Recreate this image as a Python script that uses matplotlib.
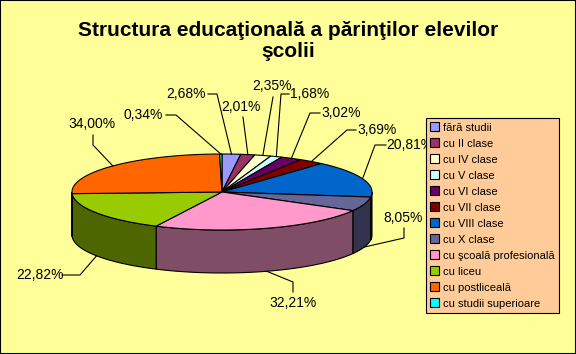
import numpy as np
import matplotlib
matplotlib.use("Agg")
import matplotlib.pyplot as plt
from matplotlib.patches import Polygon, Patch, Rectangle

categories = ["fără studii", "cu II clase", "cu IV clase", "cu V clase", "cu VI clase",
              "cu VII clase", "cu VIII clase", "cu X clase", "cu şcoală profesională",
              "cu liceu", "cu postliceală", "cu studii superioare"]
values = [2.68, 2.01, 2.35, 1.68, 3.02, 3.69, 20.81, 8.05, 32.21, 22.82, 34.00, 0.34]
colors = ["#9999FF", "#993366", "#FFFFCC", "#CCFFFF", "#660066", "#800000",
          "#0066CC", "#666699", "#FF99CC", "#99CC00", "#FF6600", "#00FFFF"]

# label text centres and leader elbows (pixels)
label_pos = [(186, 94), (241, 107), (272, 86), (310, 94), (341, 113), (377, 130),
             (410, 145), (403, 218), (293, 303), (40, 275), (92, 124), (143, 115)]
leader_pts = [[(208, 94), (217, 94)], [(243, 117)], [(273, 97)], [(289, 94), (281, 94)],
              [(320, 113), (310, 113)], [(356, 130), (347, 130)], [(386, 145), (375, 145)],
              [(404, 228), (404, 238)], [(293, 292), (293, 282)], [(62, 275), (80, 275)],
              [(93, 135), (93, 145)], [(166, 115), (176, 115)]]

W, H = 576, 354
CX, CY, RX, RY, DEPTH = 222, 192, 150, 38, 43

plt.rcParams["font.family"] = ["Liberation Sans", "DejaVu Sans"]

fig = plt.figure(figsize=(W / 100, H / 100), dpi=100, facecolor="#FFFF99")
ax = fig.add_axes([0, 0, 1, 1])
ax.set_xlim(0, W)
ax.set_ylim(H, 0)
ax.axis("off")


def pt(theta, dy=0.0):
    t = np.radians(theta)
    return CX + RX * np.sin(t), CY - RY * np.cos(t) + dy


def darker(c, f=0.5):
    r, g, b = matplotlib.colors.to_rgb(c)
    return (r * f, g * f, b * f)


vals = np.array(values)
edges = np.concatenate([[0], np.cumsum(vals)]) / vals.sum() * 360

# sides (front half only)
for i, c in enumerate(colors):
    a0, a1 = max(edges[i], 90), min(edges[i + 1], 270)
    if a1 <= a0:
        continue
    th = np.linspace(a0, a1, 60)
    top = [pt(t) for t in th]
    bot = [pt(t, DEPTH) for t in th[::-1]]
    ax.add_patch(Polygon(top + bot, closed=True, fc=darker(c), ec="black", lw=0.8, zorder=1))

# top faces
for i, c in enumerate(colors):
    th = np.linspace(edges[i], edges[i + 1], 80)
    poly = [(CX, CY)] + [pt(t) for t in th]
    ax.add_patch(Polygon(poly, closed=True, fc=c, ec="black", lw=0.8, zorder=2))

# labels with leaders
for i, v in enumerate(values):
    mid = (edges[i] + edges[i + 1]) / 2
    anchor = pt(mid, DEPTH if 90 < mid < 270 else 0)
    line = leader_pts[i] + [anchor]
    xs, ys = zip(*line)
    ax.plot(xs, ys, color="black", lw=0.8, zorder=3)
    tx, ty = label_pos[i]
    ax.text(tx, ty, f"{v:.2f}".replace(".", ",") + "%", ha="center", va="center",
            fontsize=10, zorder=3)

fig.text(288 / W, 1 - 41 / H, "Structura educaţională a părinţilor elevilor\nşcolii",
         ha="center", va="center", fontsize=15, fontweight="bold", linespacing=1.15)

handles = [Patch(fc=c, ec="black", lw=0.8) for c in colors]
leg = ax.legend(handles, categories, loc="upper left",
                bbox_to_anchor=(426 / W, 1 - 118 / H), bbox_transform=fig.transFigure,
                fontsize=8, frameon=True, fancybox=False, borderaxespad=0,
                handlelength=0.8, handleheight=0.8, handletextpad=0.3,
                labelspacing=0.53, borderpad=0.4)
leg.get_frame().set_facecolor("#FFCC99")
leg.get_frame().set_edgecolor("black")
leg.get_frame().set_linewidth(0.8)
leg.get_frame().set_alpha(1)
leg.set_zorder(5)

fig.add_artist(Rectangle((0, 0), 1, 1, transform=fig.transFigure, fill=False,
                         ec="black", lw=1.5))

fig.savefig("out.png", dpi=100, facecolor=fig.get_facecolor())
